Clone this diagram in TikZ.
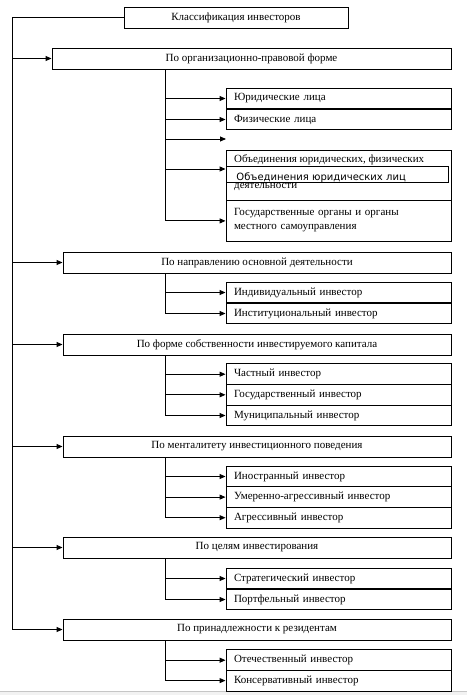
\documentclass[tikz,border=0pt]{standalone}
\usepackage{fontspec}
\setmainfont{Liberation Serif}
\newfontfamily\ovfont{DejaVu Sans}
\usetikzlibrary{arrows.meta,calc}
\begin{document}
\begin{tikzpicture}[x=1pt,y=-1pt,
  box/.style={draw=black,line width=0.9pt,inner sep=0pt,font=\fontsize{11}{13}\selectfont,fill=white},
  head/.style={box,minimum height=21pt},
  hwide/.style={head,minimum width=388pt},
  sub/.style={box,minimum width=225pt,minimum height=20.8pt,text width=209pt,inner xsep=8pt,align=left},
  lbl/.style={anchor=base west,inner sep=0pt,font=\fontsize{11}{13}\selectfont},
  conn/.style={line width=0.9pt},
  arr/.style={conn,-{Triangle[length=6pt,width=5pt]}}
]
\useasboundingbox (0,0) rectangle (467,695);
\fill[white] (0,0) rectangle (467,695);
\fill[gray!10] (0,691.5) rectangle (467,695);
\draw[gray!45,line width=0.8pt] (0,691.6) -- (467,691.6);

\coordinate (lx) at (12,0);
\coordinate (vx) at (165,0);

% top and headers
\node[head,minimum width=224pt] (top) at (236,17.5) {Классификация инвесторов};
\node[head,minimum width=399pt] (h1) at (251.5,58.5) {По организационно-правовой форме};
\node[hwide] (h2) at (257,262.5) {По направлению основной деятельности};
\node[hwide] (h3) at (257,344.5) {По форме собственности инвестируемого капитала};
\node[hwide] (h4) at (257,446.5) {По менталитету инвестиционного поведения};
\node[hwide] (h5) at (257,547.5) {По целям инвестирования};
\node[hwide] (h6) at (257,629.5) {По принадлежности к резидентам};

% group 1
\node[sub] (s11) at (338.5,98.5) {Юридические лица};
\node[sub] (s12) at (338.5,119.5) {Физические лица};
\coordinate (e13) at (226,139);
\node[sub,minimum height=50.3pt] (s14) at (338.5,175.6) {};
\node[lbl] (s14a) at (234,162.5) {Объединения юридических, физических};
\node[lbl] (s14b) at (234,188.8) {деятельности};
\node[sub,minimum height=40.4pt,font=\fontsize{11}{14}\selectfont] (s15) at (338.5,220.9) {Государственные органы и органы\\местного самоуправления\rule[-5pt]{0pt}{5pt}};
\node[box,anchor=north west,minimum width=222pt,text width=202pt,inner xsep=10pt,inner ysep=0pt,text height=14.5pt,text depth=2pt,align=left,font=\ovfont\fontsize{10}{12}\selectfont] (ov) at (226,165.7) {Объединения юридических лиц};
\coordinate (a14) at ($(s14.north west)+(0,19)$);

% group 2
\node[sub] (s21) at (338.5,292.5) {Индивидуальный инвестор};
\node[sub] (s22) at (338.5,313.5) {Институциональный инвестор};
% group 3
\node[sub] (s31) at (338.5,374.2) {Частный инвестор};
\node[sub] (s32) at (338.5,394.8) {Государственный инвестор};
\node[sub] (s33) at (338.5,415.5) {Муниципальный инвестор};
% group 4
\node[sub] (s41) at (338.5,476.5) {Иностранный инвестор};
\node[sub] (s42) at (338.5,497.1) {Умеренно-агрессивный инвестор};
\node[sub] (s43) at (338.5,517.7) {Агрессивный инвестор};
% group 5
\node[sub] (s51) at (338.5,578.5) {Стратегический инвестор};
\node[sub] (s52) at (338.5,599.5) {Портфельный инвестор};
% group 6
\node[sub] (s61) at (338.5,660.2) {Отечественный инвестор};
\node[sub] (s62) at (338.5,680.6) {Консервативный инвестор};

% main spine
\draw[arr] (top.west) -| (lx |- h6.west) -- (h6.west);
\foreach \h in {h1,h2,h3,h4,h5} \draw[arr] (lx |- \h.west) -- (\h.west);

% group connectors
\draw[conn] (h1.south -| vx) -- (vx |- s15.west);
\foreach \n in {s11,s12,s15} \draw[arr] (vx |- \n.west) -- (\n.west);
\draw[arr] (vx |- e13) -- (e13);
\draw[arr] (vx |- a14) -- (a14);

\draw[conn] (h2.south -| vx) -- (vx |- s22.west);
\foreach \n in {s21,s22} \draw[arr] (vx |- \n.west) -- (\n.west);

\draw[conn] (h3.south -| vx) -- (vx |- s33.west);
\foreach \n in {s31,s32,s33} \draw[arr] (vx |- \n.west) -- (\n.west);

\draw[conn] (h4.south -| vx) -- (vx |- s43.west);
\foreach \n in {s41,s42,s43} \draw[arr] (vx |- \n.west) -- (\n.west);

\draw[conn] (h5.south -| vx) -- (vx |- s52.west);
\foreach \n in {s51,s52} \draw[arr] (vx |- \n.west) -- (\n.west);

\draw[conn] (h6.south -| vx) -- (vx |- s62.west);
\foreach \n in {s61,s62} \draw[arr] (vx |- \n.west) -- (\n.west);
\end{tikzpicture}
\end{document}
